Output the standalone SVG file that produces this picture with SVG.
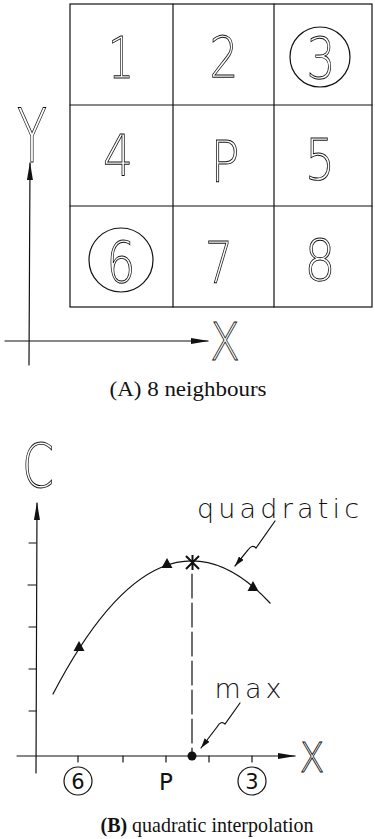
<svg xmlns="http://www.w3.org/2000/svg" width="375" height="839" viewBox="0 0 375 839">
<style>
.ln{stroke:#111;stroke-width:1.2;fill:none;stroke-linecap:round}
.big{font-family:"DejaVu Sans","Liberation Sans",sans-serif;font-weight:200;fill:#fff;stroke:#111;stroke-width:0.9;text-anchor:middle}
.sm{font-family:"DejaVu Sans","Liberation Sans",sans-serif;fill:#111;text-anchor:middle;font-weight:200}
.lb{font-family:"DejaVu Sans","Liberation Sans",sans-serif;fill:#111;text-anchor:middle}
.cap{font-family:"Liberation Serif","DejaVu Serif",serif;fill:#111;text-anchor:middle}
.tri{fill:#111}
</style>
<defs>
<marker id="ax" markerUnits="userSpaceOnUse" viewBox="0 0 18 7" refX="17" refY="3.5" markerWidth="18" markerHeight="7" orient="auto"><path d="M0,0.5 L18,3.5 L0,6.5 Z" fill="#111"/></marker>
<marker id="ld" markerUnits="userSpaceOnUse" viewBox="0 0 10 6" refX="10" refY="3" markerWidth="10" markerHeight="6" orient="auto"><path d="M0,0 L10,3 L0,6 Z" fill="#111"/></marker>
<path id="t" d="M0,-6 L5.5,4 L-5.5,4 Z"/>
</defs>

<!-- Part A grid -->
<g id="grid">
<rect x="70" y="4" width="302" height="303" class="ln"/>
<line x1="173" y1="4" x2="173" y2="307" class="ln"/>
<line x1="274" y1="4" x2="274" y2="307" class="ln"/>
<line x1="70" y1="105" x2="372" y2="105" class="ln"/>
<line x1="70" y1="206" x2="372" y2="206" class="ln"/>
</g>
<g id="cell-1"><text x="121" y="78" class="big" font-size="57" textLength="26" lengthAdjust="spacingAndGlyphs">1</text></g>
<g id="cell-2"><text x="224" y="78" class="big" font-size="57" textLength="29" lengthAdjust="spacingAndGlyphs">2</text></g>
<g id="cell-3"><circle cx="320" cy="57" r="30" class="ln" stroke-width="1"/><text x="321" y="79" class="big" font-size="57" textLength="29" lengthAdjust="spacingAndGlyphs">3</text></g>
<g id="cell-4"><text x="118" y="176" class="big" font-size="57" textLength="30" lengthAdjust="spacingAndGlyphs">4</text></g>
<g id="cell-P"><text x="225" y="182" class="big" font-size="57" textLength="29" lengthAdjust="spacingAndGlyphs">P</text></g>
<g id="cell-5"><text x="320" y="180" class="big" font-size="57" textLength="30" lengthAdjust="spacingAndGlyphs">5</text></g>
<g id="cell-6"><circle cx="121" cy="260" r="32" class="ln" stroke-width="1"/><text x="121" y="283" class="big" font-size="57" textLength="29" lengthAdjust="spacingAndGlyphs">6</text></g>
<g id="cell-7"><text x="219" y="283" class="big" font-size="57" textLength="28" lengthAdjust="spacingAndGlyphs">7</text></g>
<g id="cell-8"><text x="320" y="281" class="big" font-size="57" textLength="31" lengthAdjust="spacingAndGlyphs">8</text></g>

<!-- Part A axes -->
<g id="axes-a">
<line x1="29" y1="365" x2="30" y2="163" class="ln" marker-end="url(#ax)"/>
<line x1="5" y1="341" x2="208" y2="341" class="ln" marker-end="url(#ax)"/>
<text x="32" y="162" class="big" font-size="74" textLength="30" lengthAdjust="spacingAndGlyphs">Y</text>
<text x="225" y="360" class="big" font-size="51" stroke-width="1.3" textLength="30" lengthAdjust="spacingAndGlyphs">X</text>
</g>
<text x="188" y="396" class="cap" font-size="21" textLength="157" lengthAdjust="spacingAndGlyphs">(A) 8 neighbours</text>

<!-- Part B -->
<g id="axes-b">
<line x1="36" y1="773" x2="37" y2="503" class="ln" marker-end="url(#ax)"/>
<line x1="17" y1="756" x2="295" y2="756" class="ln" marker-end="url(#ax)"/>
<path class="ln" d="M29,543 H36 M28,585 H36 M29,627 H36 M29,669 H36 M29,711 H36 M78,756 V762 M123,756 V762 M166,756 V762 M209,756 V762 M252,756 V762"/>
<text x="38" y="487" class="big" font-size="60" textLength="32" lengthAdjust="spacingAndGlyphs">C</text>
<text x="312" y="772" class="big" font-size="41" stroke-width="1.2" textLength="25" lengthAdjust="spacingAndGlyphs">X</text>
</g>

<g id="curve">
<path class="ln" d="M53,694 Q161.5,486 270,603"/>
<use href="#t" x="79" y="647" class="tri"/>
<use href="#t" x="167" y="564" class="tri"/>
<use href="#t" x="253" y="587" class="tri"/>
<path d="M186,556 L199,569 M199,556 L186,569 M192.5,555 V570" stroke="#111" stroke-width="2" fill="none"/>
</g>

<g id="max-line">
<line x1="192" y1="574" x2="192" y2="752" class="ln" stroke-dasharray="24 5"/>
<circle cx="192" cy="756" r="4.5" fill="#111"/>
</g>

<g id="labels-b">
<text x="278" y="518" class="sm" font-size="27" textLength="162" lengthAdjust="spacing">quadratic</text>
<path class="ln" d="M275,521 L256,548 Q252,544 248,550 L235,566" marker-end="url(#ld)"/>
<text x="248" y="698" class="sm" font-size="27" textLength="67" lengthAdjust="spacing">max</text>
<path class="ln" d="M240,703 L225,724 Q221,720 217,727 L201,748" marker-end="url(#ld)"/>
<circle cx="78" cy="781" r="14" class="ln" stroke-width="1"/>
<text x="78" y="789" class="lb" font-size="21">6</text>
<text x="166" y="790" class="lb" font-size="23">P</text>
<circle cx="252" cy="781" r="14" class="ln" stroke-width="1"/>
<text x="252" y="789" class="lb" font-size="21">3</text>
</g>
<text x="207" y="832" class="cap" font-size="21" textLength="213" lengthAdjust="spacingAndGlyphs"><tspan font-weight="bold">(B)</tspan> quadratic interpolation</text>
</svg>
